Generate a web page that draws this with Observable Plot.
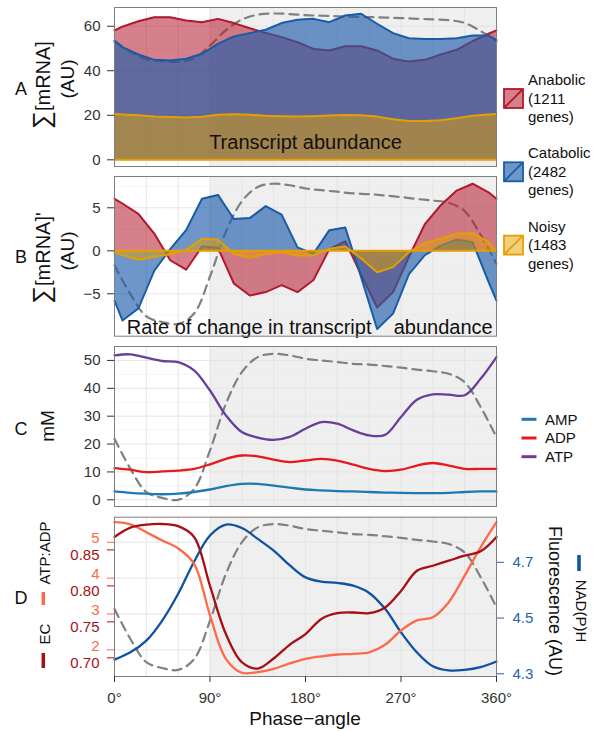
<!DOCTYPE html>
<html><head><meta charset="utf-8">
<script src="https://cdn.jsdelivr.net/npm/d3@7"></script>
<script src="https://cdn.jsdelivr.net/npm/@observablehq/plot@0.6"></script>
<style>
body{margin:0;background:#fff;font-family:"Liberation Sans",Arial,Helvetica,sans-serif;}
#wrap{position:relative;width:597px;height:731px;overflow:hidden;background:#fff;}
#wrap > svg{position:absolute;left:0;}
#overlay{z-index:5;}
svg text{white-space:pre;}
</style></head><body><div id="wrap"></div>
<script>
// ---------- data ----------
const phaseAB = [0,7.5,22.5,37.5,52.5,67.5,82.5,97.5,112.5,127.5,142.5,157.5,172.5,187.5,202.5,217.5,232.5,247.5,262.5,277.5,292.5,307.5,322.5,337.5,352.5,360];
// Panel A: transcript abundance (AU)
const anabolicA = [58.1,59.8,62.2,64.0,64.0,62.6,61.8,63.3,61.4,59.1,57.0,55.1,52.8,49.8,49.1,51.0,51.0,49.1,45.4,44.1,44.9,47.3,49.4,53.3,56.6,58.1];
const catabolicA = [53.6,50.6,47.3,44.9,44.6,45.4,47.6,52.1,55.4,56.9,58.4,61.4,62.9,63.3,61.8,64.8,65.6,61.1,56.9,54.6,54.3,54.3,54.6,55.8,55.8,53.9];
const noisyA = [20.6,20.4,20.0,19.5,19.2,19.0,19.3,20.2,20.5,20.2,19.8,19.6,19.4,19.6,19.9,20.1,20.0,19.4,18.2,17.4,17.4,17.8,18.7,19.8,20.4,20.6];
// Panel B: rate of change (AU)
const anabolicB = [6.05,5.5,4.3,2.0,-1.1,-2.2,0.5,0.35,-3.8,-5.2,-4.8,-4.0,-4.8,-3.4,0.2,1.1,-2.8,-6.6,-4.8,-0.7,3.1,5.3,7.0,7.8,6.8,6.05];
const catabolicB = [-5.8,-8.1,-6.7,-2.3,0.2,2.4,6.05,6.5,3.7,3.8,5.2,4.2,0.4,-0.35,2.4,2.7,-3.1,-9.1,-7.3,-2.7,-0.5,0.6,1.3,1.0,-3.6,-5.8];
const noisyB = [-0.15,-0.5,-1.05,-0.7,-0.4,0.1,1.4,1.3,-0.35,-0.8,-0.35,-0.15,-0.55,-0.55,0.23,0.5,-0.9,-2.5,-1.9,-0.15,0.9,1.4,2.0,2.05,1.0,-0.1];

const phaseCD = [0,15,30,45,60,75,90,105,120,135,150,165,180,195,210,225,240,255,270,285,300,315,330,345,360];
// Panel C: nucleotides (mM)
const amp = [3.0,2.5,2.2,2.0,2.2,2.8,3.7,4.9,5.7,5.7,5.1,4.4,3.7,3.4,3.1,3.0,2.8,2.6,2.5,2.4,2.4,2.5,2.8,3.0,3.0];
const adp = [11.4,10.8,9.9,10.2,10.5,11.1,12.7,14.7,15.9,15.6,14.4,13.5,14.1,14.7,14.1,12.6,11.1,10.3,10.8,12.3,13.2,12.3,11.1,11.1,11.1];
const atp = [51.8,52.2,51.0,49.8,49.4,46.4,39.2,30.3,24.3,22.3,21.5,22.6,25.5,27.9,27.3,24.9,23.1,23.3,29.7,35.9,37.8,37.7,37.5,43.4,51.2];
// Panel D
const atpAdpRatio = [5.56,5.5,5.28,5.05,4.83,4.40,2.96,1.75,1.36,1.38,1.47,1.62,1.75,1.82,1.87,1.89,1.93,2.14,2.54,2.82,2.91,3.33,4.07,4.86,5.56];
const energyCharge = [0.868,0.881,0.885,0.886,0.883,0.868,0.800,0.733,0.694,0.685,0.699,0.718,0.733,0.754,0.762,0.763,0.762,0.770,0.793,0.821,0.828,0.835,0.842,0.848,0.868];
const nadph = [4.351,4.377,4.419,4.491,4.587,4.702,4.796,4.835,4.823,4.784,4.742,4.690,4.646,4.631,4.626,4.616,4.590,4.533,4.449,4.377,4.327,4.312,4.314,4.324,4.344];
// dissolved-oxygen trace (relative, 0..1), dashed in every panel
const oxygenRel = [0.418,0.212,0.053,0.013,0.0,0.074,0.338,0.658,0.874,0.977,1.0,0.989,0.966,0.954,0.943,0.931,0.926,0.916,0.905,0.891,0.880,0.863,0.805,0.636,0.429];

// ticks & labels
const phaseTicks = [0,90,180,270,360];
const gridPhase = [30,60,90,120,150,180,210,240,270,300,330];
const ticksA = [0,20,40,60], minorA = [10,30,50];
const ticksB = [-5,0,5], minorB = [-7.5,-2.5,2.5,7.5];
const ticksC = [0,10,20,30,40,50], minorC = [5,15,25,35,45];
const ratioTicks = [2,3,4,5];
const ecTicks = [0.70,0.75,0.80,0.85];
const nadTicks = [4.3,4.5,4.7];
const groups = ["Anabolic","Catabolic","Noisy"];
const geneCounts = [1211,2482,1483];
const nucleotides = ["AMP","ADP","ATP"];
const panelTexts = ["Transcript abundance","Rate of change in transcript    abundance"];

// ---------- styling ----------
const W = 597, ML = 114, MR = 101;
const FONT = '"Liberation Sans", Arial, Helvetica, sans-serif';
const RED = "#B2182B", BLUE = "#185CA8", ORANGE = "#E69F00";
const RED_FILL = "#B2182B", BLUE_FILL = "#205EAB", ORANGE_FILL = "#E69F00";
const C_AMP = "#1F78B4", C_ADP = "#E41A1C", C_ATP = "#6A3D9A";
const SALMON = "#FB6A4A", EC_RED = "#A50F15", NAD_BLUE = "#0F52A0";
const shade = [{from: 90, to: 360}];

// secondary axes for panel D (mapped onto ATP:ADP scale)
const ecToY = e => 1.777 + 20.07 * (e - 0.70);
const nadToY = n => 1.331 + 7.777 * (n - 4.3);

const dataAB = phaseAB.map((p, i) => ({phase: p,
  anaA: anabolicA[i], catA: catabolicA[i], noiA: noisyA[i],
  anaB: anabolicB[i], catB: catabolicB[i], noiB: noisyB[i]}));
const dataCD = phaseCD.map((p, i) => ({phase: p, amp: amp[i], adp: adp[i], atp: atp[i],
  ratio: atpAdpRatio[i], ec: energyCharge[i], nad: nadph[i], ox: oxygenRel[i]}));

function base(dom, yTicks, yMinor, dashLo, dashHi) {
  return [
    Plot.rect(shade, {x1: "from", x2: "to", y1: dom[0], y2: dom[1], fill: "#EFEFEF"}),
    Plot.gridY(yMinor, {stroke: "#EBEBEB", strokeOpacity: 1, strokeWidth: 0.5}),
    Plot.gridY(yTicks, {stroke: "#E2E2E2", strokeOpacity: 1, strokeWidth: 0.9}),
    Plot.gridX(gridPhase, {stroke: "#E2E2E2", strokeOpacity: 1, strokeWidth: 0.9}),
    Plot.line(dataCD, {x: "phase", y: d => dashLo + d.ox * (dashHi - dashLo),
      stroke: "#808080", strokeWidth: 2.2, strokeDasharray: "9,6", curve: "catmull-rom"})
  ];
}
const yAxis = (ticks, extra = {}) => Plot.axisY(ticks, Object.assign({tickSize: 7, tickPadding: 7,
  fontSize: 15, color: "#333", label: null}, extra));
const common = {width: W, marginLeft: ML, marginRight: MR,
  style: {fontFamily: FONT, background: "transparent", overflow: "visible"}};

function areaPanel(dom, ticks, minor, dash, keys, textIdx, textPos) {
  const [ka, kc, kn] = keys;
  return [
    ...base(dom, ticks, minor, dash[0], dash[1]),
    Plot.areaY(dataAB, {x: "phase", y1: 0, y2: ka, fill: RED_FILL, fillOpacity: 0.55}),
    Plot.line(dataAB, {x: "phase", y: ka, stroke: RED, strokeWidth: 2}),
    Plot.areaY(dataAB, {x: "phase", y1: 0, y2: kc, fill: BLUE_FILL, fillOpacity: 0.65}),
    Plot.line(dataAB, {x: "phase", y: kc, stroke: BLUE, strokeWidth: 2}),
    Plot.areaY(dataAB, {x: "phase", y1: 0, y2: kn, fill: ORANGE_FILL, fillOpacity: 0.5}),
    Plot.line(dataAB, {x: "phase", y: kn, stroke: ORANGE, strokeWidth: 2}),
    Plot.ruleY([0], {stroke: ORANGE, strokeWidth: 2}),
    Plot.text([panelTexts[textIdx]], {x: textPos[0], y: textPos[1], text: d => d,
      fontSize: 20, fill: "#111"}),
    Plot.frame({stroke: "#7F7F7F", strokeWidth: 1}),
    yAxis(ticks)
  ];
}

const domA = [-3.0, 68.4], domB = [-9.93, 8.64], domC = [-2.4, 55.0], domD = [1.256, 5.70];

const plotA = Plot.plot({...common, height: 170, marginTop: 7, marginBottom: 4,
  x: {domain: [0, 360], axis: null}, y: {domain: domA},
  marks: areaPanel(domA, ticksA, minorA, [44.0, 65.7], ["anaA","catA","noiA"], 0, [180, 7.8])});

const plotB = Plot.plot({...common, height: 170, marginTop: 6, marginBottom: 4.3,
  x: {domain: [0, 360], axis: null}, y: {domain: domB},
  marks: areaPanel(domB, ticksB, minorB, [-8.5, 7.8], ["anaB","catB","noiB"], 1, [184, -8.93])});

const plotC = Plot.plot({...common, height: 170, marginTop: 6, marginBottom: 4,
  x: {domain: [0, 360], axis: null}, y: {domain: domC},
  marks: [
    ...base(domC, ticksC, minorC, 0, 52.4),
    Plot.line(dataCD, {x: "phase", y: "amp", stroke: C_AMP, strokeWidth: 2.3, curve: "catmull-rom"}),
    Plot.line(dataCD, {x: "phase", y: "adp", stroke: C_ADP, strokeWidth: 2.3, curve: "catmull-rom"}),
    Plot.line(dataCD, {x: "phase", y: "atp", stroke: C_ATP, strokeWidth: 2.3, curve: "catmull-rom"}),
    Plot.frame({stroke: "#7F7F7F", strokeWidth: 1}),
    yAxis(ticksC)
  ]});

const plotD = Plot.plot({...common, height: 221, marginTop: 6.7, marginBottom: 55,
  x: {domain: [0, 360]}, y: {domain: domD},
  marks: [
    ...base(domD, ratioTicks, [], 1.44, 5.51),
    Plot.line(dataCD, {x: "phase", y: d => nadToY(d.nad), stroke: NAD_BLUE, strokeWidth: 2.3, curve: "catmull-rom"}),
    Plot.line(dataCD, {x: "phase", y: "ratio", stroke: SALMON, strokeWidth: 2.3, curve: "catmull-rom"}),
    Plot.line(dataCD, {x: "phase", y: d => ecToY(d.ec), stroke: EC_RED, strokeWidth: 2.3, curve: "catmull-rom"}),
    Plot.frame({stroke: "#7F7F7F", strokeWidth: 1}),
    // left dual axis: tick marks via axis, labels via text (offset so they don't collide)
    Plot.axisY(ratioTicks, {tickSize: 7, color: SALMON, tickFormat: () => "", label: null}),
    Plot.axisY(ecTicks.map(ecToY), {tickSize: 7, color: EC_RED, tickFormat: () => "", label: null}),
    Plot.text(ratioTicks, {y: d => d, text: d => String(d), frameAnchor: "left", textAnchor: "end",
      dx: -15, dy: -4, fontSize: 15, fill: SALMON}),
    Plot.text(ecTicks, {y: d => ecToY(d), text: d => d.toFixed(2), frameAnchor: "left", textAnchor: "end",
      dx: -15, dy: 5, fontSize: 15, fill: EC_RED}),
    Plot.axisY(nadTicks.map(nadToY), {anchor: "right", tickSize: 7, color: "#2A62AE", tickFormat: () => "", label: null}),
    Plot.text(nadTicks, {y: d => nadToY(d), text: d => d.toFixed(1), frameAnchor: "right", textAnchor: "start",
      dx: 16, fontSize: 15, fill: "#2A62AE"}),
    Plot.axisX(phaseTicks, {tickSize: 6, tickPadding: 10, fontSize: 15, color: "#333", label: null,
      tickFormat: d => d + "°"})
  ]});

const wrap = document.getElementById("wrap");
[[plotA, 0], [plotB, 170], [plotC, 340], [plotD, 510]].forEach(([p, top]) => {
  p.style.position = "absolute"; p.style.top = top + "px"; p.style.left = "0px";
  wrap.appendChild(p);
});

// ---------- titles & legends (overlay) ----------
const NS = "http://www.w3.org/2000/svg";
const ov = document.createElementNS(NS, "svg");
ov.setAttribute("id", "overlay");
ov.setAttribute("width", W); ov.setAttribute("height", 731);
ov.style.position = "absolute"; ov.style.top = "0px"; ov.style.left = "0px";
ov.style.fontFamily = FONT;
wrap.appendChild(ov);
function el(tag, attrs, text) {
  const e = document.createElementNS(NS, tag);
  for (const k in attrs) e.setAttribute(k, attrs[k]);
  if (text != null) e.textContent = text;
  ov.appendChild(e); return e;
}
function sumTitle(x, y, prime) {
  const t = el("text", {transform: `translate(${x},${y}) rotate(-90)`, "text-anchor": "middle", fill: "#111"});
  const s = document.createElementNS(NS, "tspan"); s.setAttribute("font-size", 25); s.textContent = "∑"; t.appendChild(s);
  const m = document.createElementNS(NS, "tspan"); m.setAttribute("font-size", 20); m.textContent = "[mRNA]" + (prime ? "'" : ""); t.appendChild(m);
}
// panel letters
[["A", 95], ["B", 263], ["C", 435], ["D", 604]].forEach(([l, y]) =>
  el("text", {x: 21, y, "font-size": 18, "text-anchor": "middle", fill: "#111"}, l));
sumTitle(50, 85, false);
el("text", {transform: "translate(74,79) rotate(-90)", "text-anchor": "middle", "font-size": 19, fill: "#111"}, "(AU)");
sumTitle(50, 258, true);
el("text", {transform: "translate(74,251) rotate(-90)", "text-anchor": "middle", "font-size": 19, fill: "#111"}, "(AU)");
el("text", {transform: "translate(53.5,426) rotate(-90)", "text-anchor": "middle", "font-size": 19, fill: "#111"}, "mM");
// panel D left titles
el("text", {transform: "translate(50,553) rotate(-90)", "text-anchor": "middle", "font-size": 15, fill: "#111"}, "ATP:ADP");
el("line", {x1: 43.3, x2: 43.3, y1: 592, y2: 605, stroke: SALMON, "stroke-width": 3.5});
el("text", {transform: "translate(50,634) rotate(-90)", "text-anchor": "middle", "font-size": 15, fill: "#111"}, "EC");
el("line", {x1: 43.3, x2: 43.3, y1: 653, y2: 668, stroke: EC_RED, "stroke-width": 3.5});
// panel D right titles
el("text", {transform: "translate(548.5,601) rotate(90)", "text-anchor": "middle", "font-size": 18, fill: "#111"}, "Fluorescence (AU)");
el("text", {transform: "translate(576,611) rotate(90)", "text-anchor": "middle", "font-size": 15, fill: "#111"}, "NAD(P)H");
el("line", {x1: 579, x2: 579, y1: 555, y2: 571, stroke: NAD_BLUE, "stroke-width": 3.5});
// x label
el("text", {x: 305, y: 725, "text-anchor": "middle", "font-size": 19, fill: "#111"}, "Phase−angle");
// legend A/B
const legFill = [RED_FILL, BLUE_FILL, ORANGE_FILL], legOp = [0.55, 0.65, 0.5], legStroke = [RED, BLUE, ORANGE];
groups.forEach((g, i) => {
  const b = 85 + i * 73.3;
  el("rect", {x: 504, y: b + 4, width: 19, height: 19, fill: legFill[i], "fill-opacity": legOp[i], stroke: legStroke[i], "stroke-width": 1.8});
  el("line", {x1: 504.5, y1: b + 22.5, x2: 522.5, y2: b + 4.5, stroke: legStroke[i], "stroke-width": 1.8});
  el("text", {x: 528, y: b, "font-size": 15, fill: "#111"}, g);
  el("text", {x: 528, y: b + 18.7, "font-size": 15, fill: "#111"}, "(" + geneCounts[i]);
  el("text", {x: 528, y: b + 37, "font-size": 15, fill: "#111"}, "genes)");
});
// legend C
const nucCol = [C_AMP, C_ADP, C_ATP];
nucleotides.forEach((n, i) => {
  const cy = 419.3 + i * 18.7;
  el("line", {x1: 521.5, x2: 536.5, y1: cy, y2: cy, stroke: nucCol[i], "stroke-width": 3});
  el("text", {x: 545, y: cy + 5.4, "font-size": 15, fill: "#111"}, n);
});
</script></body></html>
